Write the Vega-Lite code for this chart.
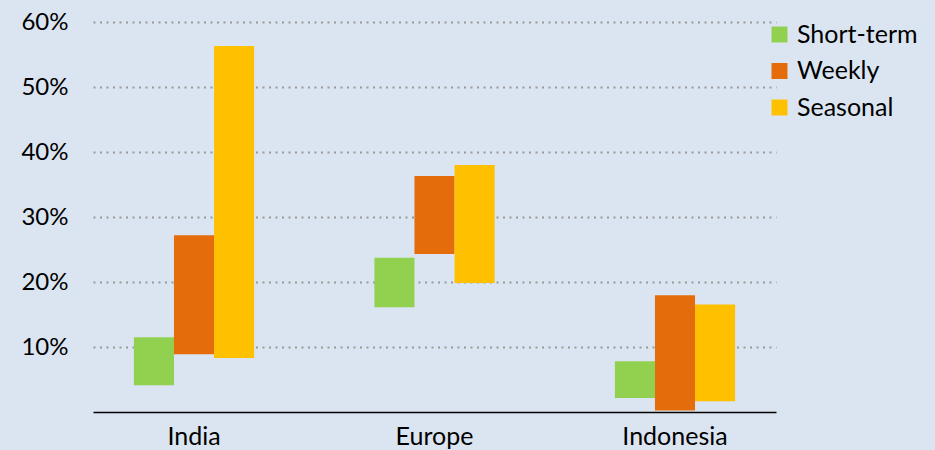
{
  "$schema": "https://vega.github.io/schema/vega-lite/v6.json",
  "width": 683,
  "height": 390,
  "autosize": {"type": "none"},
  "padding": {"left": 93, "top": 22, "right": 159, "bottom": 38},
  "background": "#dbe5f1",
  "config": {
    "view": {"stroke": null},
    "font": "Lato",
    "axis": {"labelFont": "Lato", "labelColor": "#000000"},
    "legend": {"labelFont": "Lato"}
  },
  "data": {
    "values": [
      {"region": "India", "series": "Short-term", "low": 0.041, "high": 0.115},
      {"region": "India", "series": "Weekly", "low": 0.089, "high": 0.272},
      {"region": "India", "series": "Seasonal", "low": 0.083, "high": 0.563},
      {"region": "Europe", "series": "Short-term", "low": 0.161, "high": 0.2375},
      {"region": "Europe", "series": "Weekly", "low": 0.243, "high": 0.363},
      {"region": "Europe", "series": "Seasonal", "low": 0.1985, "high": 0.38},
      {"region": "Indonesia", "series": "Short-term", "low": 0.0215, "high": 0.078},
      {"region": "Indonesia", "series": "Weekly", "low": 0.0025, "high": 0.1795},
      {"region": "Indonesia", "series": "Seasonal", "low": 0.0165, "high": 0.1655}
    ]
  },
  "mark": {"type": "bar"},
  "encoding": {
    "x": {
      "field": "region",
      "type": "nominal",
      "sort": ["India", "Europe", "Indonesia"],
      "scale": {"paddingInner": 0.5, "paddingOuter": 0.17},
      "axis": {
        "title": null,
        "labelAngle": 0,
        "labelFontSize": 25,
        "labelPadding": 12,
        "ticks": false,
        "domainColor": "#000000",
        "domainWidth": 1.5,
        "grid": false
      }
    },
    "xOffset": {
      "field": "series",
      "type": "nominal",
      "sort": ["Short-term", "Weekly", "Seasonal"],
      "scale": {"paddingInner": 0, "paddingOuter": 0}
    },
    "y": {
      "field": "low",
      "type": "quantitative",
      "scale": {"domain": [0, 0.6], "nice": false},
      "axis": {
        "title": null,
        "values": [0.1, 0.2, 0.3, 0.4, 0.5, 0.6],
        "format": ".0%",
        "labelFontSize": 24,
        "labelPadding": 25,
        "ticks": false,
        "domain": false,
        "grid": true,
        "gridColor": "#9a9a9a",
        "gridWidth": 2,
        "gridDash": [2, 4.5]
      }
    },
    "y2": {"field": "high"},
    "color": {
      "field": "series",
      "type": "nominal",
      "sort": ["Short-term", "Weekly", "Seasonal"],
      "scale": {"domain": ["Short-term", "Weekly", "Seasonal"], "range": ["#92d050", "#e46c0a", "#ffc000"]},
      "legend": {
        "title": null,
        "orient": "none",
        "legendX": 674,
        "legendY": 0,
        "symbolType": "square",
        "symbolSize": 256,
        "symbolStrokeWidth": 0,
        "symbolOpacity": 1,
        "labelFontSize": 25,
        "labelColor": "#000000",
        "labelOffset": 5,
        "rowPadding": 10.5
      }
    }
  }
}
